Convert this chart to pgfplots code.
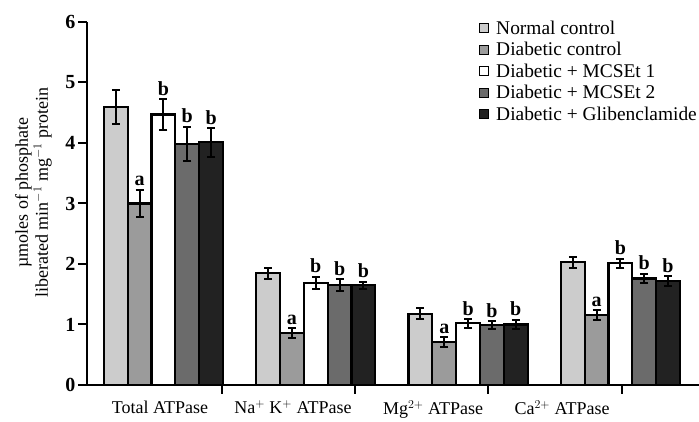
\documentclass[border=0pt]{standalone}
\usepackage{pgfplots}
\usepackage{pgfplotstable}
\pgfplotsset{compat=1.18}
\usepackage{fontspec}
\setmainfont{Liberation Serif}
\definecolor{cN}{HTML}{CCCCCC}
\definecolor{cD}{HTML}{9B9B9B}
\definecolor{cM2}{HTML}{6B6B6B}
\definecolor{cG}{HTML}{222222}
\pgfplotstableread{
x y e t
0 4.60 0.28 {}
1 1.85 0.09 {}
2 1.18 0.09 {}
3 2.03 0.09 {}
}\normal
\pgfplotstableread{
x y e t
0 3.00 0.23 a
1 0.86 0.08 a
2 0.71 0.08 a
3 1.16 0.08 a
}\dcon
\pgfplotstableread{
x y e t
0 4.47 0.26 b
1 1.69 0.10 b
2 1.02 0.07 b
3 2.01 0.08 b
}\mone
\pgfplotstableread{
x y e t
0 3.99 0.28 b
1 1.65 0.10 b
2 0.99 0.07 b
3 1.76 0.08 b
}\mtwo
\pgfplotstableread{
x y e t
0 4.01 0.24 b
1 1.65 0.06 b
2 1.00 0.08 b
3 1.72 0.08 b
}\glib
\begin{document}
\begin{tikzpicture}
\begin{axis}[
  name=ax,
  scale only axis, width=612pt, height=363pt,
  xmin=-0.502, xmax=3.516, ymin=0, ymax=6,
  ybar=0pt, bar width=0.1563,
  axis lines=left, axis line style={-, line width=2.2pt},
  tick style={line width=2pt, black}, tick align=outside,
  major tick length=9pt,
  ytick={0,1,...,6},
  xtick={0.384,1.257,2.131,3.010}, xticklabels={},
  extra x ticks={-0.023,0.850,1.770,2.617},
  extra x tick labels={Total ATPase, Na$^{+}$ K$^{+}$ ATPase, Mg$^{2+}$ ATPase, Ca$^{2+}$ ATPase},
  extra x tick style={major tick length=0pt, tick style={draw=none}},
  /pgf/number format/assume math mode=true,
  yticklabel style={font=\bfseries\fontsize{20}{20}\selectfont, xshift=1pt},
  xticklabel style={font=\fontsize{18}{18}\selectfont, yshift=-12pt},
  ylabel={µmoles of phosphate\\liberated min$^{-1}$ mg$^{-1}$ protein},
  ylabel style={align=center, font=\fontsize{18}{20}\selectfont, at={(axis description cs:-0.052,0.53)}, anchor=south},
  legend style={at={(axis description cs:1.0,1.01)}, anchor=north east, draw=none, fill=none,
    font=\fontsize{19.4}{19.4}\selectfont, inner sep=0pt, row sep=2.6pt,
    /tikz/every odd column/.append style={column sep=5pt}},
  legend cell align=left,
  legend image code/.code={\draw[#1, draw=black, line width=1.2pt] (0pt,-4.5pt) rectangle (9pt,4.5pt);},
  every axis plot/.append style={draw=black, line width=2.2pt,
    error bars/y dir=both, error bars/y explicit,
    error bars/error bar style={line width=2pt, black},
    error bars/error mark options={rotate=90, mark size=4pt, line width=2pt, black}},
  visualization depends on={\thisrow{e} \as \err},
  every node near coord/.append style={anchor=south, font=\bfseries\fontsize{20}{20}\selectfont, text=black, inner sep=2.5pt, yshift={\err*60.5pt}},
]
\addplot[fill=cN] table[x=x, y=y, y error=e]{\normal};
\addlegendentry{Normal control}
\addplot[fill=cD, nodes near coords, point meta=explicit symbolic] table[x=x, y=y, y error=e, meta=t]{\dcon};
\addlegendentry{Diabetic control}
\addplot[fill=white, nodes near coords, point meta=explicit symbolic] table[x=x, y=y, y error=e, meta=t]{\mone};
\addlegendentry{Diabetic + MCSEt 1}
\addplot[fill=cM2, nodes near coords, point meta=explicit symbolic] table[x=x, y=y, y error=e, meta=t]{\mtwo};
\addlegendentry{Diabetic + MCSEt 2}
\addplot[fill=cG, nodes near coords, point meta=explicit symbolic] table[x=x, y=y, y error=e, meta=t]{\glib};
\addlegendentry{Diabetic + Glibenclamide}
\end{axis}
\pgfresetboundingbox
\path[use as bounding box] ([xshift=-87pt,yshift=-37pt]ax.south west) rectangle ([yshift=22pt]ax.north east);
\end{tikzpicture}
\end{document}
